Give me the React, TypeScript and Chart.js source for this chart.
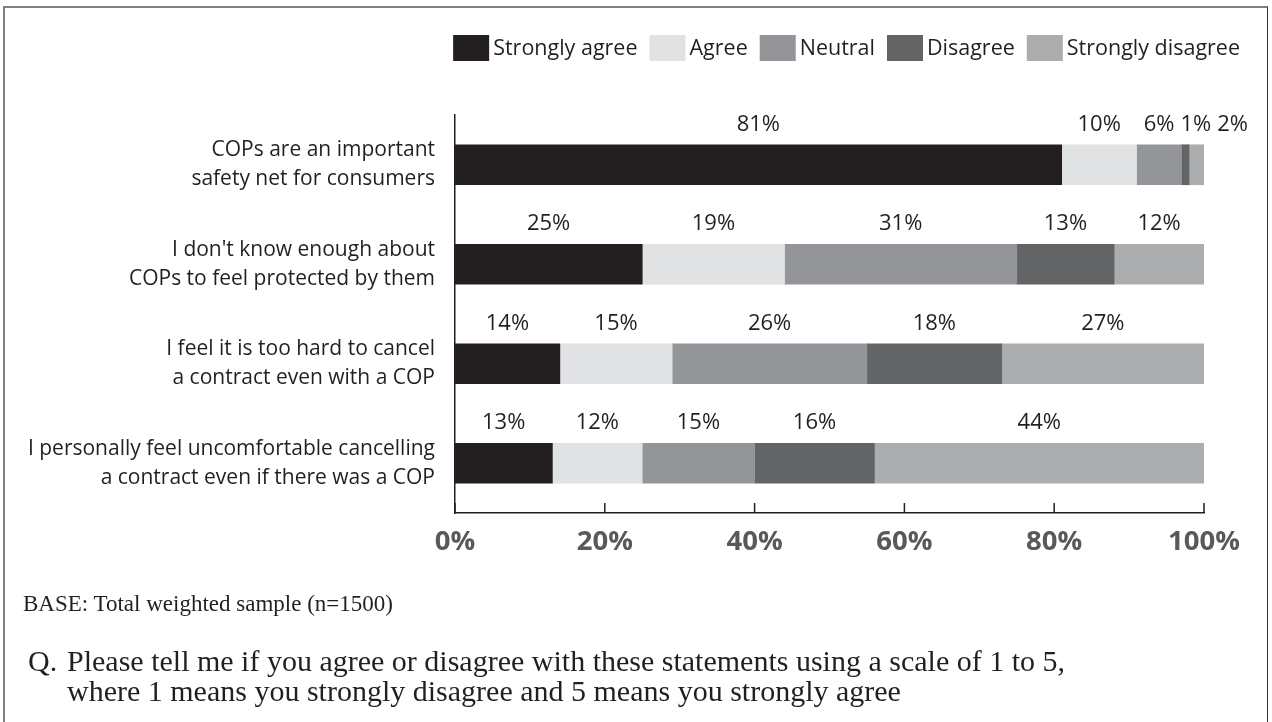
import React, { useEffect, useRef } from 'react';
import { Chart, registerables } from 'chart.js';

Chart.register(...registerables);

const categories: string[][] = [
  ['COPs are an important', 'safety net for consumers'],
  ["I don't know enough about", 'COPs to feel protected by them'],
  ['I feel it is too hard to cancel', 'a contract even with a COP'],
  ['I personally feel uncomfortable cancelling', 'a contract even if there was a COP'],
];
const seriesNames = ['Strongly agree', 'Agree', 'Neutral', 'Disagree', 'Strongly disagree'];
const stronglyAgree = [81, 25, 14, 13];
const agree = [10, 19, 15, 12];
const neutral = [6, 31, 26, 15];
const disagree = [1, 13, 18, 16];
const stronglyDisagree = [2, 12, 27, 44];
const xTickStep = 20;
const seriesColors = ['#231f20', '#e1e2e3', '#939598', '#636466', '#acadaf'];

const baseNote = 'BASE: Total weighted sample (n=1500)';
const questionLines = [
  'Please tell me if you agree or disagree with these statements using a scale of 1 to 5,',
  'where 1 means you strongly disagree and 5 means you strongly agree',
];

const SANS = '"Open Sans", "Noto Sans", sans-serif';
const SERIF = '"Liberation Serif", "Times New Roman", serif';
const INK = '#231f20';

export default function App() {
  const ref = useRef<HTMLCanvasElement | null>(null);

  useEffect(() => {
    document.body.style.margin = '0';
    const canvas = ref.current;
    if (!canvas) return;
    const values = [stronglyAgree, agree, neutral, disagree, stronglyDisagree];

    const topLegend = {
      id: 'topLegend',
      afterDraw(chart: any) {
        const c = chart.ctx;
        c.save();
        c.font = `21.5px ${SANS}`;
        c.textBaseline = 'middle';
        c.textAlign = 'left';
        const boxW = 36;
        const boxH = 26;
        const textGap = 4;
        const itemGap = 12;
        const items = chart.data.datasets.map((ds: any) => ({
          text: ds.label,
          color: ds.backgroundColor,
          w: c.measureText(ds.label).width,
        }));
        const total =
          items.reduce((s: number, it: any) => s + boxW + textGap + it.w, 0) +
          itemGap * (items.length - 1);
        let x = chart.width - 32 - total;
        const top = 35;
        items.forEach((it: any) => {
          c.fillStyle = it.color;
          c.fillRect(x, top, boxW, boxH);
          c.fillStyle = INK;
          c.fillText(it.text, x + boxW + textGap, top + boxH / 2 + 1);
          x += boxW + textGap + it.w + itemGap;
        });
        c.restore();
      },
    };

    const innerTicks = {
      id: 'innerTicks',
      afterDraw(chart: any) {
        const s = chart.scales.x;
        const c = chart.ctx;
        c.save();
        c.strokeStyle = INK;
        c.lineWidth = 1.5;
        s.ticks.forEach((t: any) => {
          const px = s.getPixelForValue(t.value);
          c.beginPath();
          c.moveTo(px, s.top);
          c.lineTo(px, s.top - 10);
          c.stroke();
        });
        c.restore();
      },
    };

    const dataLabels = {
      id: 'dataLabels',
      afterDatasetsDraw(chart: any) {
        const c = chart.ctx;
        c.save();
        c.font = `22px ${SANS}`;
        c.fillStyle = INK;
        c.textAlign = 'center';
        c.textBaseline = 'alphabetic';
        const n = chart.data.labels.length;
        for (let i = 0; i < n; i++) {
          let prevRight = -Infinity;
          chart.data.datasets.forEach((ds: any, d: number) => {
            const el = chart.getDatasetMeta(d).data[i];
            const p = el.getProps(['x', 'base', 'y', 'height'], true);
            const text = ds.data[i] + '%';
            const w = c.measureText(text).width;
            const cx = (p.x + p.base) / 2;
            const left = Math.max(cx - w / 2, prevRight + 6);
            c.fillText(text, left + w / 2, p.y - p.height / 2 - 14);
            prevRight = left + w;
          });
        }
        c.restore();
      },
    };

    const chart = new Chart(canvas, {
      type: 'bar',
      data: {
        labels: categories,
        datasets: seriesNames.map((name, k) => ({
          label: name,
          data: values[k],
          backgroundColor: seriesColors[k],
          borderWidth: 0,
          barThickness: 40,
        })),
      },
      options: {
        indexAxis: 'y',
        responsive: false,
        animation: false,
        devicePixelRatio: 1,
        layout: { padding: { left: 0, right: 68, top: 115, bottom: 149 } },
        plugins: {
          legend: { display: false },
          tooltip: { enabled: false },
        },
        scales: {
          x: {
            stacked: true,
            min: 0,
            max: 100,
            ticks: {
              stepSize: xTickStep,
              callback: (v: any) => v + '%',
              color: '#58595b',
              padding: 5,
              font: { family: SANS, size: 27.5, weight: 'bold' },
            },
            grid: { display: false },
            border: { display: true, color: INK, width: 1.5 },
            afterFit: (s: any) => {
              s.height = 60;
            },
          },
          y: {
            stacked: true,
            ticks: {
              color: INK,
              padding: 12,
              font: { family: SANS, size: 21, lineHeight: 1.38 },
            },
            grid: { display: false },
            border: { display: true, color: INK, width: 1.5 },
            afterFit: (s: any) => {
              s.width = 455;
            },
          },
        },
      } as any,
      plugins: [topLegend, innerTicks, dataLabels],
    });

    return () => chart.destroy();
  }, []);

  return (
    <div
      style={{
        position: 'fixed',
        left: 0,
        top: 0,
        width: 1272,
        height: 722,
        overflow: 'hidden',
        background: '#ffffff',
      }}
    >
      <div
        style={{
          position: 'absolute',
          left: 3,
          top: 6,
          width: 1262,
          height: 800,
          borderLeft: '2px solid #808080',
          borderTop: '2px solid #808080',
          borderRight: '1px solid #333333',
        }}
      />
      <canvas
        ref={ref}
        width={1272}
        height={722}
        style={{ position: 'absolute', left: 0, top: 0, width: 1272, height: 722 }}
      />
      <div
        style={{
          position: 'absolute',
          left: 23,
          top: 592,
          font: `23px ${SERIF}`,
          lineHeight: '23px',
          color: INK,
          whiteSpace: 'nowrap',
        }}
      >
        {baseNote}
      </div>
      <div
        style={{
          position: 'absolute',
          left: 28,
          top: 646,
          font: `30px ${SERIF}`,
          lineHeight: '30px',
          color: INK,
          whiteSpace: 'nowrap',
        }}
      >
        Q.
      </div>
      <div
        style={{
          position: 'absolute',
          left: 67,
          top: 646,
          font: `30px ${SERIF}`,
          lineHeight: '30px',
          color: INK,
          whiteSpace: 'nowrap',
        }}
      >
        {questionLines.map((l, i) => (
          <div key={i}>{l}</div>
        ))}
      </div>
    </div>
  );
}
